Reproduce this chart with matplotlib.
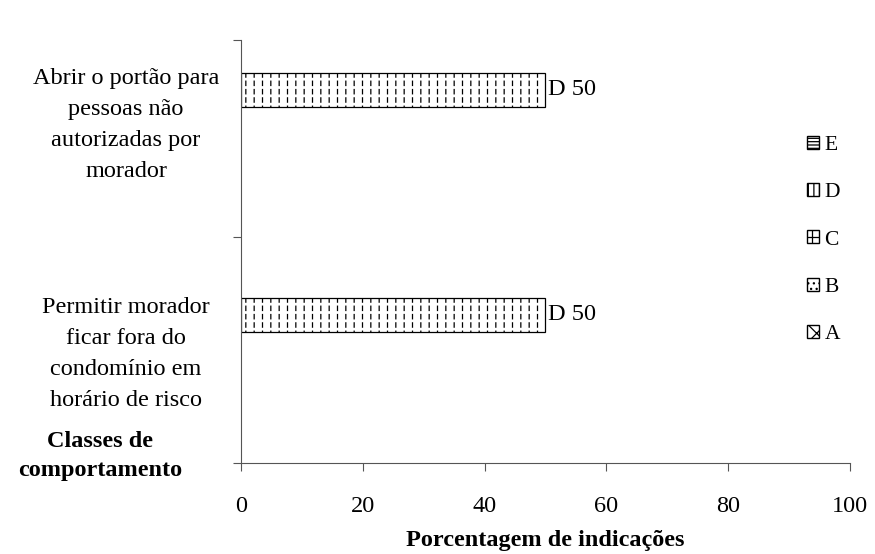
import matplotlib.pyplot as plt
from matplotlib.patches import Patch

plt.rcParams['font.family'] = ['Liberation Serif', 'DejaVu Serif']
plt.rcParams['hatch.linewidth'] = 0.9

# data
categorias = ["Permitir morador\nficar fora do\ncondomínio em\nhorário de risco",
              "Abrir o portão para\npessoas não\nautorizadas por\nmorador"]
classes = ["D", "D"]
valores = [50, 50]
legenda = ["E", "D", "C", "B", "A"]
hatches = {"E": "-----", "D": "|||", "C": "++", "B": "...", "A": "xx"}

fig = plt.figure(figsize=(8.75, 5.54), dpi=100)
ax = fig.add_axes([241 / 875, 1 - 463 / 554, (850 - 241) / 875, 423 / 554])

# bar centres in axis units (0 = bottom, 1 = top)
ypos = [0.35, 0.882]
bh = 0.08

# dashed vertical texture: black vertical hatch broken up by white horizontal hatch
ax.barh(ypos, valores, height=bh, color='white', edgecolor='black',
        linewidth=0, hatch='||')
with plt.rc_context({'hatch.linewidth': 2.0}):
    gaps = ax.barh(ypos, valores, height=bh, color='none', edgecolor='white',
                   linewidth=0, hatch='--')
for p in gaps:
    if hasattr(p, 'set_hatch_linewidth'):
        p.set_hatch_linewidth(2.0)
ax.barh(ypos, valores, height=bh, color='none', edgecolor='black', linewidth=0.9)

for y, v, c in zip(ypos, valores, classes):
    ax.text(v + 0.4, y, f"{c} {v}", va='center', ha='left', fontsize=17.5)

ax.set_xlim(0, 100)
ax.set_ylim(0, 1)
ax.set_xticks(range(0, 101, 20))
ax.tick_params(axis='x', labelsize=17.5, direction='out', length=6, pad=18)
ax.set_yticks([0, 0.534, 1.0])
ax.set_yticklabels([])
ax.tick_params(axis='y', direction='out', length=6)
for s in ['top', 'right']:
    ax.spines[s].set_visible(False)
for s in ['left', 'bottom']:
    ax.spines[s].set_color('#555555')
ax.tick_params(colors='#555555', labelcolor='black')

ax.set_xlabel("Porcentagem de indicações", fontsize=17.5, fontweight='bold', labelpad=9)

label_y = [354, 125]
for lab, py in zip(categorias, label_y):
    fig.text(126 / 875, 1 - py / 554, lab, ha='center', va='center', fontsize=17.5,
             linespacing=1.63)
fig.text(100 / 875, 1 - 456 / 554, "Classes de\ncomportamento", ha='center', va='center',
         fontsize=17.5, fontweight='bold', linespacing=1.5)

handles = [Patch(facecolor='white', edgecolor='black', hatch=hatches[k], label=k)
           for k in legenda]
fig.legend(handles=handles, loc='center left', bbox_to_anchor=(788 / 875, 1 - 240 / 554),
           frameon=False, fontsize=15.5, handlelength=0.55, handleheight=0.55,
           handletextpad=0.25, labelspacing=1.3)

fig.savefig("out.png", dpi=100)
